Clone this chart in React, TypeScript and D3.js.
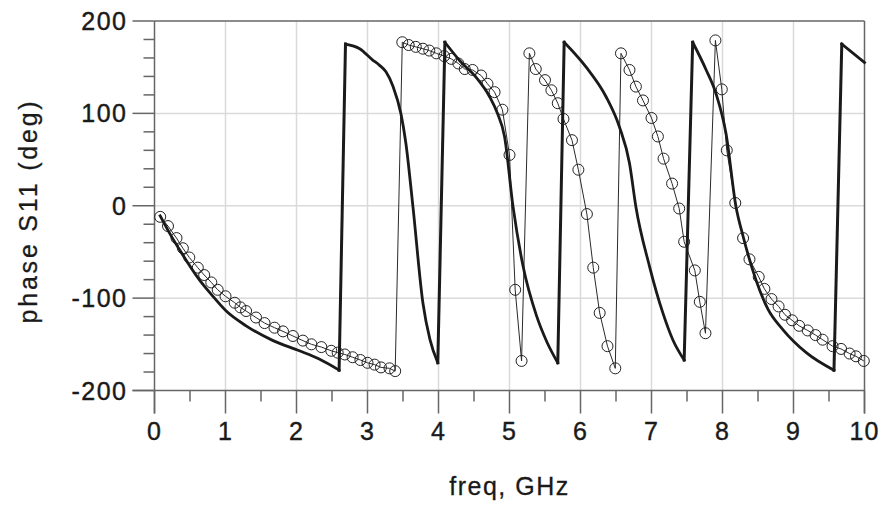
import React from "react";
import * as d3 from "d3";

const simFreq = [0.08, 0.2, 0.38, 0.63, 0.8, 1.01, 1.29, 1.67, 2.04, 2.32, 2.6, 2.69, 2.89, 3.07, 3.17, 3.26, 3.36, 3.47, 3.54, 3.64, 3.78, 3.88, 3.99, 4.09, 4.3, 4.53, 4.72, 4.83, 4.93, 5.05, 5.19, 5.38, 5.53, 5.68, 5.77, 6.08, 6.36, 6.55, 6.69, 6.78, 6.97, 7.16, 7.3, 7.46, 7.58, 7.77, 7.91, 8.05, 8.19, 8.29, 8.47, 8.64, 8.85, 9.18, 9.57, 9.68, 10.0];
const simPhase = [-11, -28, -51, -80, -96, -114, -130, -146, -157, -166, -178, 175, 170, 158, 152, 145, 129, 100, 68, -1, -105, -145, -170, 177, 157, 139, 118, 100, 75, -1, -65, -119, -148, -170, 177, 150, 118, 85, 46, -1, -65, -116, -145, -167, 177, 147, 121, 78, -1, -33, -80, -112, -134, -159, -178, 175, 155];

const measFreq = [0.08, 0.19, 0.31, 0.4, 0.49, 0.61, 0.7, 0.8, 0.89, 1.0, 1.13, 1.21, 1.29, 1.43, 1.55, 1.69, 1.81, 1.95, 2.09, 2.21, 2.35, 2.49, 2.58, 2.68, 2.79, 2.9, 3.0, 3.1, 3.19, 3.31, 3.39, 3.49, 3.58, 3.68, 3.78, 3.87, 3.97, 4.08, 4.18, 4.28, 4.37, 4.48, 4.6, 4.69, 4.79, 4.9, 5.0, 5.08, 5.17, 5.28, 5.37, 5.5, 5.59, 5.68, 5.76, 5.88, 5.97, 6.09, 6.18, 6.27, 6.38, 6.49, 6.57, 6.69, 6.78, 6.88, 7.0, 7.09, 7.17, 7.29, 7.39, 7.46, 7.61, 7.68, 7.76, 7.9, 7.99, 8.06, 8.18, 8.29, 8.38, 8.51, 8.59, 8.69, 8.79, 8.88, 8.98, 9.08, 9.2, 9.31, 9.41, 9.55, 9.67, 9.79, 9.88, 9.99];
const measPhase = [-12, -22, -35, -46, -56, -67, -75, -83, -91, -98, -105, -110, -114, -121, -127, -132, -136, -141, -146, -150, -153, -157, -159, -161, -164, -167, -170, -172, -175, -176, -179, 177, 174, 172, 170, 168, 165, 162, 159, 154, 148, 147, 141, 132, 123, 104, 55, -91, -168, 165, 148, 136, 125, 111, 94, 71, 39, -9, -67, -116, -152, -176, 165, 147, 129, 114, 95, 75, 51, 24, -3, -39, -70, -104, -138, 179, 126, 60, 3, -35, -58, -77, -90, -101, -109, -118, -124, -130, -135, -140, -145, -152, -155, -160, -163, -168];

const xTicks = [0, 1, 2, 3, 4, 5, 6, 7, 8, 9, 10];
const yTicks = [-200, -100, 0, 100, 200];
const xLabel = "freq, GHz";
const yLabel = "phase S11 (deg)";

const W = 880;
const H = 505;
const L = 154.5;
const R = 864.5;
const T = 21;
const B = 390.5;

type P = [number, number];

export default function App() {
  const x = d3.scaleLinear().domain([0, 10]).range([L, R]);
  const y = d3.scaleLinear().domain([-200, 200]).range([B, T]);
  const xMinor = d3.range(0, 10.001, 0.5).filter((v) => Math.abs(v - Math.round(v)) > 0.01);
  const yMinor = d3.range(-200, 200.001, 20).filter((v) => v % 100 !== 0);

  const sim: P[] = simFreq.map((f, i) => [f, simPhase[i]] as P);
  const meas: P[] = measFreq.map((f, i) => [f, measPhase[i]] as P);
  const line = d3
    .line<P>()
    .x((d) => x(d[0]))
    .y((d) => y(d[1]));
  const smooth = d3
    .line<P>()
    .x((d) => x(d[0]))
    .y((d) => y(d[1]))
    .curve(d3.curveMonotoneX);

  // split the simulated trace at phase wraps: smooth branches, straight wrap jumps
  const branches: P[][] = [];
  const jumps: P[][] = [];
  let cur: P[] = [sim[0]];
  for (let i = 1; i < sim.length; i++) {
    if (sim[i][1] - sim[i - 1][1] > 180) {
      branches.push(cur);
      jumps.push([sim[i - 1], sim[i]]);
      cur = [sim[i]];
    } else {
      cur.push(sim[i]);
    }
  }
  branches.push(cur);

  const axisColor = "#666";
  const textColor = "#1a1a1a";
  const font = "'Liberation Sans', Arial, sans-serif";

  return (
    <svg
      width={W}
      height={H}
      style={{ position: "absolute", left: 0, top: 0, background: "#fff" }}
      fontFamily={font}
    >
      <rect x={0} y={0} width={W} height={H} fill="#fff" />
      {/* grid */}
      {xTicks.slice(1, -1).map((t) => (
        <line key={"gx" + t} x1={x(t)} x2={x(t)} y1={T} y2={B} stroke="#dadada" strokeWidth={1.5} />
      ))}
      {yTicks.slice(1, -1).map((t) => (
        <line key={"gy" + t} x1={L} x2={R} y1={y(t)} y2={y(t)} stroke="#dadada" strokeWidth={1.5} />
      ))}
      {/* frame */}
      <line x1={L} x2={R} y1={T} y2={T} stroke={axisColor} strokeWidth={1.5} />
      <line x1={R} x2={R} y1={T} y2={B + 23} stroke={axisColor} strokeWidth={1.5} />
      <line x1={L - 22} x2={R} y1={B} y2={B} stroke={axisColor} strokeWidth={1.5} />
      <line x1={L} x2={L} y1={T} y2={B + 23} stroke={axisColor} strokeWidth={1.5} />
      {/* y ticks */}
      {yTicks.map((t) => (
        <line key={"yt" + t} x1={L - 22} x2={L} y1={y(t)} y2={y(t)} stroke={axisColor} strokeWidth={1.5} />
      ))}
      {yMinor.map((t) => (
        <line key={"ym" + t} x1={L - 11} x2={L} y1={y(t)} y2={y(t)} stroke={axisColor} strokeWidth={1.5} />
      ))}
      {/* x ticks */}
      {xTicks.map((t) => (
        <line key={"xt" + t} x1={x(t)} x2={x(t)} y1={B} y2={B + 23} stroke={axisColor} strokeWidth={1.5} />
      ))}
      {xMinor.map((t) => (
        <line key={"xm" + t} x1={x(t)} x2={x(t)} y1={B} y2={B + 11} stroke={axisColor} strokeWidth={1.5} />
      ))}
      {/* tick labels */}
      {yTicks.map((t) => (
        <text key={"yl" + t} x={L - 27} y={y(t)} dy="0.36em" textAnchor="end" fontSize={25} fill={textColor} stroke={textColor} strokeWidth={0.4} letterSpacing={1.5}>
          {t}
        </text>
      ))}
      {xTicks.map((t) => (
        <text key={"xl" + t} x={x(t)} y={440} textAnchor="middle" fontSize={25} fill={textColor} stroke={textColor} strokeWidth={0.4} letterSpacing={1}>
          {t}
        </text>
      ))}
      <text x={(L + R) / 2} y={495} textAnchor="middle" fontSize={25} fill={textColor} stroke={textColor} strokeWidth={0.3} letterSpacing={1.5}>
        {xLabel}
      </text>
      <text
        transform={`translate(37, 211) rotate(-90)`}
        textAnchor="middle"
        fontSize={25}
        fill={textColor}
        stroke={textColor}
        strokeWidth={0.3}
        letterSpacing={2.8}
      >
        {yLabel}
      </text>
      {/* measured */}
      <path d={line(meas) || ""} fill="none" stroke="#2a2a2a" strokeWidth={1} />
      {meas.map((d, i) => (
        <circle key={"c" + i} cx={x(d[0])} cy={y(d[1])} r={5.5} fill="none" stroke="#222" strokeWidth={1} />
      ))}
      {/* simulated */}
      {branches.map((b, i) => (
        <path key={"sb" + i} d={smooth(b) || ""} fill="none" stroke="#1a1a1a" strokeWidth={2.8} strokeLinejoin="miter" strokeLinecap="square" />
      ))}
      {jumps.map((j, i) => (
        <path key={"sj" + i} d={line(j) || ""} fill="none" stroke="#1a1a1a" strokeWidth={3} strokeLinecap="square" />
      ))}
    </svg>
  );
}
